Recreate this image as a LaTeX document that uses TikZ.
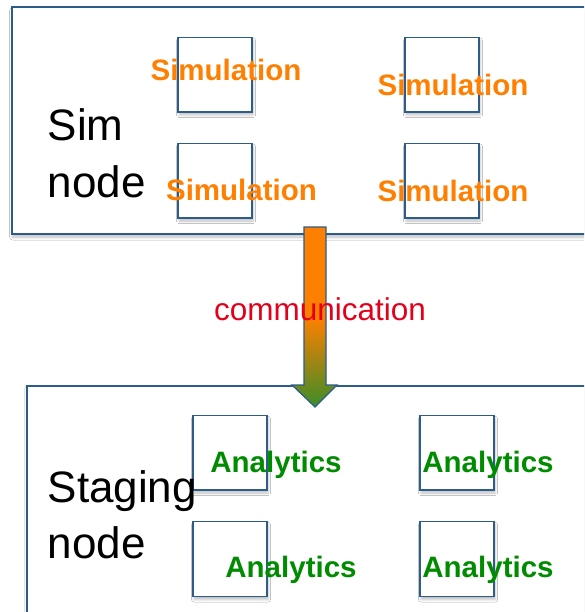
\documentclass[tikz,border=0pt]{standalone}
\usepackage{fontspec}
\setmainfont{Liberation Sans}
\usetikzlibrary{shadows.blur}
\definecolor{boxblue}{RGB}{44,92,138}
\definecolor{simorange}{RGB}{255,128,0}
\definecolor{anagreen}{RGB}{0,140,0}
\definecolor{commred}{RGB}{228,0,27}
\definecolor{arrgreen}{RGB}{60,140,40}
\tikzset{
  bigbox/.style={draw=boxblue, line width=1.6pt, fill=white,
    blur shadow={shadow xshift=1pt, shadow yshift=-3pt, shadow blur radius=3pt, shadow opacity=25}},
  smallbox/.style={draw=boxblue, line width=1.4pt, fill=white,
    blur shadow={shadow xshift=1pt, shadow yshift=-3pt, shadow blur radius=2.5pt, shadow opacity=25}},
  simtxt/.style={anchor=base, inner sep=0pt, text=simorange, font=\bfseries\fontsize{29.5}{34}\selectfont},
  anatxt/.style={anchor=base, inner sep=0pt, text=anagreen, font=\bfseries\fontsize{29.5}{34}\selectfont},
  labtxt/.style={anchor=base west, inner sep=0pt, align=left, font=\fontsize{44}{56}\selectfont},
}
\begin{document}
\begin{tikzpicture}[x=1pt,y=-1pt]
\useasboundingbox (0,0) rectangle (584,612);
\clip (0,0) rectangle (584,612);
\fill[white] (0,0) rectangle (584,612);
% big boxes
\path[bigbox] (11.7,7.3) rectangle (600,234);
\path[bigbox] (26.8,385.7) rectangle (600,630);
% small boxes top
\path[smallbox] (178,37.5) rectangle (252,112);
\path[smallbox] (405,37.5) rectangle (479,112);
\path[smallbox] (178,143.5) rectangle (252,218);
\path[smallbox] (405,143.5) rectangle (479,218);
% small boxes bottom
\path[smallbox] (193,415.7) rectangle (267,490);
\path[smallbox] (420,415.7) rectangle (494,490);
\path[smallbox] (193,521.7) rectangle (267,596.5);
\path[smallbox] (420,521.7) rectangle (494,596.5);
% arrow
\coordinate (arrtip) at (315,407);
\shade[top color=simorange, bottom color=arrgreen, middle color=simorange]
  (304,227) -- (326,227) -- (326,385) -- (337,385) -- (arrtip) -- (292,385) -- (304,385) -- cycle;
\draw[boxblue, line width=1.2pt, line join=miter]
  (304,227) -- (326,227) -- (326,385) -- (337,385) -- (arrtip) -- (292,385) -- (304,385) -- cycle;
% labels
\node[labtxt] (simnode) at (47.5,197) {Sim\\node};
\node[labtxt] (stagenode) at (47.5,558) {Staging\\node};
\node[anchor=base, inner sep=0pt, text=commred, font=\fontsize{31.5}{36}\selectfont] (comm) at (320,320.7) {communication};
\node[simtxt] (s1) at (226,80.7) {Simulation};
\node[simtxt] (s2) at (453,95.7) {Simulation};
\node[simtxt] (s3) at (241.5,200.7) {Simulation};
\node[simtxt] (s4) at (453,201.2) {Simulation};
\node[anatxt] (a1) at (276,472) {Analytics};
\node[anatxt] (a2) at (488,472.5) {Analytics};
\node[anatxt] (a3) at (291,577.5) {Analytics};
\node[anatxt] (a4) at (488,577) {Analytics};
\end{tikzpicture}
\end{document}
